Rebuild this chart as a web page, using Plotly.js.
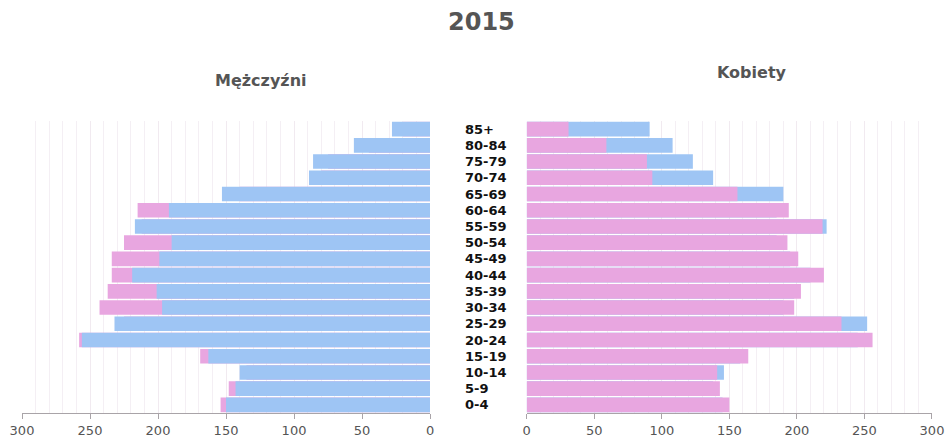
<!DOCTYPE html>
<html>
<head>
<meta charset="utf-8">
<script src="https://cdn.plot.ly/plotly-3.0.1.min.js"></script>
<style>html,body{margin:0;padding:0;background:#fff;}#chart{width:948px;height:441px;}</style>
</head>
<body>
<div id="chart"></div>
<script>
const ageGroups = ["0-4","5-9","10-14","15-19","20-24","25-29","30-34","35-39","40-44","45-49","50-54","55-59","60-64","65-69","70-74","75-79","80-84","85+"];
// Left panel (Mężczyźni): main blue series and pink comparison series behind it
const menMain    = [150,143,140,163,256,232,197,201,219,199,190,217,192,153,89,86,56,28];
const menCompare = [154,148,135,169,258,225,243,237,234,234,225,212,215,140,80,75,45,20];
// Right panel (Kobiety): main pink series and blue comparison series behind it
const womenMain    = [150,143,141,164,256,233,198,203,220,201,193,219,194,156,93,89,59,31];
const womenCompare = [145,138,146,158,245,252,190,198,210,195,185,222,185,190,138,123,108,91];

const BLUE = '#9ec5f4';
const PINK = '#e8a6e0';
const font = 'DejaVu Sans, Verdana, sans-serif';

const traces = [
  {type:'bar', orientation:'h', y:ageGroups, x:menCompare, xaxis:'x', yaxis:'y', marker:{color:PINK}, hoverinfo:'x+y'},
  {type:'bar', orientation:'h', y:ageGroups, x:menMain, xaxis:'x', yaxis:'y', marker:{color:BLUE}, hoverinfo:'x+y'},
  {type:'bar', orientation:'h', y:ageGroups, x:womenCompare, xaxis:'x2', yaxis:'y2', marker:{color:BLUE}, hoverinfo:'x+y'},
  {type:'bar', orientation:'h', y:ageGroups, x:womenMain, xaxis:'x2', yaxis:'y2', marker:{color:PINK}, hoverinfo:'x+y'}
];

const xCommon = {
  dtick:50, tick0:0, showgrid:true, gridcolor:'#f1eaf0', gridwidth:1,
  minor:{dtick:10, showgrid:true, gridcolor:'#f4eff4', ticks:''},
  zeroline:false, showline:true, linecolor:'#a9a4a8', linewidth:1,
  ticks:'outside', ticklen:5, tickcolor:'#a9a4a8',
  tickfont:{family:font, size:13, color:'#555'}, fixedrange:true
};

const layout = {
  width:948, height:441,
  margin:{l:22, r:16, t:121, b:28},
  paper_bgcolor:'#fff', plot_bgcolor:'#fff',
  showlegend:false, barmode:'overlay', bargap:0.1,
  xaxis: Object.assign({}, xCommon, {domain:[0,0.4484], range:[300,0], anchor:'y'}),
  xaxis2: Object.assign({}, xCommon, {domain:[0.5546,1], range:[0,300], anchor:'y2'}),
  yaxis: {domain:[0,1], anchor:'x', side:'right', type:'category', categoryarray:ageGroups,
          showgrid:false, zeroline:false, showline:false, ticks:'', ticklabelstandoff:34,
          tickfont:{family:font, size:13, color:'#111', weight:'bold'}, fixedrange:true},
  yaxis2: {domain:[0,1], anchor:'x2', type:'category', categoryarray:ageGroups,
           showgrid:false, zeroline:false, showline:false, showticklabels:false, fixedrange:true},
  annotations:[
    {text:'<b>2015</b>', xref:'paper', yref:'paper', x:(481-22)/910, y:(413-22)/292,
     xanchor:'center', yanchor:'middle', showarrow:false,
     font:{family:font, size:24, color:'#555'}},
    {text:'<b>Mężczyźni</b>', xref:'paper', yref:'paper', x:(261-22)/910, y:(413-80)/292,
     xanchor:'center', yanchor:'middle', showarrow:false,
     font:{family:font, size:16, color:'#555'}},
    {text:'<b>Kobiety</b>', xref:'paper', yref:'paper', x:(752-22)/910, y:(413-72)/292,
     xanchor:'center', yanchor:'middle', showarrow:false,
     font:{family:font, size:16, color:'#555'}}
  ]
};

Plotly.newPlot('chart', traces, layout, {displayModeBar:false, staticPlot:true});
</script>
</body>
</html>
